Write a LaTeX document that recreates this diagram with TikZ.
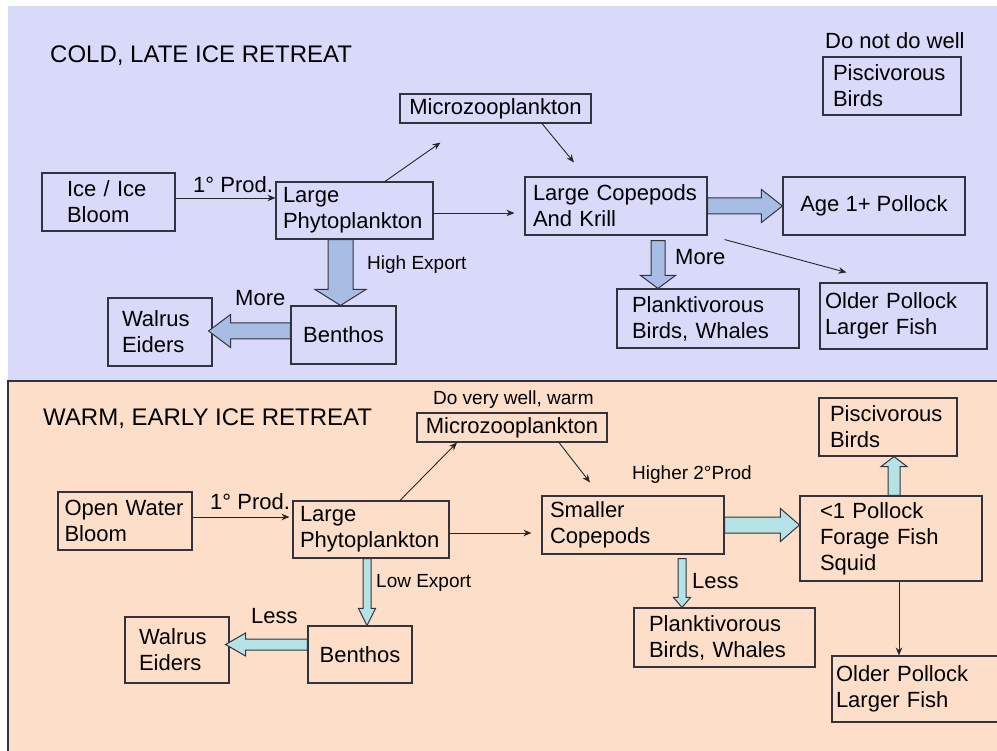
\documentclass[tikz,border=0pt]{standalone}
\usepackage{fontspec}
\setmainfont{Liberation Sans}
\usetikzlibrary{calc,arrows.meta}

\definecolor{coldbg}{HTML}{D9D9FA}
\definecolor{warmbg}{HTML}{FDDFC9}
\definecolor{coldfill}{HTML}{A7BDE4}
\definecolor{warmfill}{HTML}{B4E2E5}
\definecolor{edge}{HTML}{33333F}

% fat arrow: [style]{from}{to}{shaft half width}{head half width}{head length}
\newcommand{\blockarrow}[6][]{%
  \coordinate (ba-h) at ($(#3)!#6!(#2)$);
  \draw[#1] ($(#2)!#4!90:(#3)$) -- ($(ba-h)!#4!-90:(#2)$) -- ($(ba-h)!#5!-90:(#2)$) -- (#3)
    -- ($(ba-h)!#5!90:(#2)$) -- ($(ba-h)!#4!90:(#2)$) -- ($(#2)!#4!-90:(#3)$) -- cycle;}

\begin{document}
\begin{tikzpicture}[x=1pt,y=-1pt,>={Stealth[length=8pt,width=6.5pt]},
  box/.style={draw=edge,line width=1.1pt,inner sep=0pt,font=\fontsize{22}{26}\selectfont},
  lbl/.style={inner sep=0pt,anchor=base west,font=\fontsize{22}{26}\selectfont},
  small/.style={inner sep=0pt,anchor=base west,font=\fontsize{19}{23}\selectfont},
  title/.style={inner sep=0pt,anchor=base west,font=\fontsize{24}{28}\selectfont},
  flow/.style={->,draw=black!85,line width=0.9pt},
  coldblock/.style={draw=edge,line width=1pt,line join=miter,fill=coldfill},
  warmblock/.style={draw=edge,line width=1pt,line join=miter,fill=warmfill}]
 \useasboundingbox (0,0) rectangle (997,751);
 \clip (0,0) rectangle (997,751);
 \fill[white] (0,0) rectangle (997,751);
 \fill[coldbg] (8,6) rectangle (997,381);
 \fill[warmbg] (8,381) rectangle (997,751);
 \draw[edge,line width=1.1pt] (8,751) -- (8,381) -- (997,381);

 % cold, late ice retreat
 \node[title] (coldtitle) at (50,63) {COLD, LATE ICE RETREAT};
 \node[box,minimum width=133pt,minimum height=58pt,text width=83pt,align=left] (ice) at (108.5,202) {Ice / Ice\\Bloom};
 \node[box,minimum width=157pt,minimum height=57pt,text width=143pt,align=left] (phyA) at (354.5,210.5) {Large\\Phytoplankton};
 \node[box,minimum width=191pt,minimum height=29pt] (micA) at (495.5,108.5) {Microzooplankton};
 \node[box,minimum width=182pt,minimum height=58pt,text width=166pt,align=left] (copA) at (616,206) {Large Copepods\\And Krill};
 \node[box,minimum width=182pt,minimum height=58pt] (ageA) at (874,206) {Age 1+ Pollock};
 \node[box,minimum width=182pt,minimum height=59pt,text width=152pt,align=left] (plkA) at (708,318.5) {Planktivorous\\Birds, Whales};
 \node[box,minimum width=167pt,minimum height=66pt,text width=157pt,align=left] (oldA) at (903.5,316) {Older Pollock\\Larger Fish};
 \node[box,minimum width=138pt,minimum height=58pt,text width=118pt,align=left] (pisA) at (892,86) {Piscivorous\\Birds};
 \node[box,minimum width=105pt,minimum height=58pt] (benA) at (343.5,335) {Benthos};
 \node[box,minimum width=104pt,minimum height=68pt,text width=76pt,align=left] (walA) at (160,332) {Walrus\\Eiders};

 \node[lbl] (prodA) at (193,193) {1° Prod.};
 \node[small] (exportA) at (367,270) {High Export};
 \node[lbl] (moreW) at (235,306) {More};
 \node[lbl] (moreP) at (675,265) {More};
 \node[lbl] (notwell) at (825,49) {Do not do well};

 \draw[flow] ([yshift=4pt]ice.east) -- ([yshift=4pt]ice.east -| phyA.west);
 \draw[flow] ([xshift=30.5pt]phyA.north) -- ($(micA.south)+(-55,19)$);
 \draw[flow] ([xshift=46.5pt]micA.south) -- ($(copA.north)+(-42,-14)$);
 \draw[flow,shorten >=10pt] ([yshift=-2.5pt]phyA.east) -- ([yshift=-2.5pt]phyA.east -| copA.west);
 \draw[flow] ($(copA.south east)+(17,4)$) -- ($(oldA.north west)+(27,-10)$);

 \coordinate (ts1) at ([xshift=-14pt]phyA.south);
 \coordinate (te1) at (ts1 |- benA.north);
 \blockarrow[coldblock]{ts1}{te1}{12.5pt}{25.5pt}{16pt}
 \coordinate (ts2) at ([yshift=4pt]benA.west);
 \coordinate (te2) at ($(ts2 -| walA.east)+(-4,0)$);
 \blockarrow[coldblock]{ts2}{te2}{8pt}{16.5pt}{22pt}
 \blockarrow[coldblock]{copA.east}{ageA.west}{8pt}{16.5pt}{21pt}
 \coordinate (ts4) at ($(copA.south)+(42,5)$);
 \coordinate (te4) at (ts4 |- plkA.north);
 \blockarrow[coldblock]{ts4}{te4}{7pt}{17.5pt}{13pt}

 % warm, early ice retreat
 \node[title] (warmtitle) at (43,426) {WARM, EARLY ICE RETREAT};
 \node[box,minimum width=134pt,minimum height=58pt,text width=121pt,align=left] (opn) at (125,521) {Open Water\\Bloom};
 \node[box,minimum width=156pt,minimum height=57pt,text width=142pt,align=left] (phyB) at (371,529.5) {Large\\Phytoplankton};
 \node[box,minimum width=190pt,minimum height=29pt] (micB) at (512,427.5) {Microzooplankton};
 \node[box,minimum width=182pt,minimum height=58pt,text width=166pt,align=left] (copB) at (633,525) {Smaller\\Copepods};
 \node[box,minimum width=182pt,minimum height=85pt,text width=142pt,align=left] (polB) at (891,538.5) {<1 Pollock\\Forage Fish\\Squid};
 \node[box,minimum width=138pt,minimum height=58pt,text width=116pt,align=left] (pisB) at (888,427) {Piscivorous\\Birds};
 \node[box,minimum width=175pt,minimum height=66pt,text width=167pt,align=left] (oldB) at (919.5,689) {Older Pollock\\Larger Fish};
 \node[box,minimum width=181pt,minimum height=59pt,text width=151pt,align=left] (plkB) at (724.5,637.5) {Planktivorous\\Birds, Whales};
 \node[box,minimum width=104pt,minimum height=57pt] (benB) at (360,654.5) {Benthos};
 \node[box,minimum width=104pt,minimum height=66pt,text width=76pt,align=left] (walB) at (177,650) {Walrus\\Eiders};

 \node[lbl] (prodB) at (210,510) {1° Prod.};
 \node[small] (verywell) at (433,405) {Do very well, warm};
 \node[small] (higher) at (632,480) {Higher 2°Prod};
 \node[small] (exportB) at (376,587) {Low Export};
 \node[lbl] (lessP) at (692,588) {Less};
 \node[lbl] (lessW) at (251,623) {Less};

 \draw[flow,shorten >=3pt] ([yshift=4pt]opn.east) -- ([yshift=4pt]opn.east -| phyB.west);
 \draw[flow] ([xshift=29pt]phyB.north) -- ($(micB.south)+(-55,0)$);
 \draw[flow] ([xshift=47pt]micB.south) -- ($(copB.north)+(-43,-13)$);
 \draw[flow,shorten >=10pt] ([yshift=-3.5pt]phyB.east) -- ([yshift=-3.5pt]phyB.east -| copB.west);
 \draw[flow] ([xshift=8pt]polB.south) -- ([xshift=8pt]polB.south |- oldB.north);

 \coordinate (ts5) at ([xshift=-4pt]phyB.south);
 \coordinate (te5) at (ts5 |- benB.north);
 \blockarrow[warmblock]{ts5}{te5}{4pt}{8.5pt}{17pt}
 \coordinate (ts6) at ([yshift=10pt]benB.west);
 \coordinate (te6) at ($(ts6 -| walB.east)+(-4,0)$);
 \blockarrow[warmblock]{ts6}{te6}{5.5pt}{11.5pt}{20pt}
 \coordinate (te7) at (copB.east -| polB.west);
 \blockarrow[warmblock]{copB.east}{te7}{8pt}{16.5pt}{19pt}
 \coordinate (ts8) at ($(copB.south)+(49,4)$);
 \coordinate (te8) at (ts8 |- plkB.north);
 \blockarrow[warmblock]{ts8}{te8}{4pt}{8.5pt}{10pt}
 \coordinate (ts9) at ([xshift=3pt]polB.north);
 \coordinate (te9) at (ts9 |- pisB.south);
 \blockarrow[warmblock]{ts9}{te9}{6pt}{13pt}{10pt}
\end{tikzpicture}
\end{document}
